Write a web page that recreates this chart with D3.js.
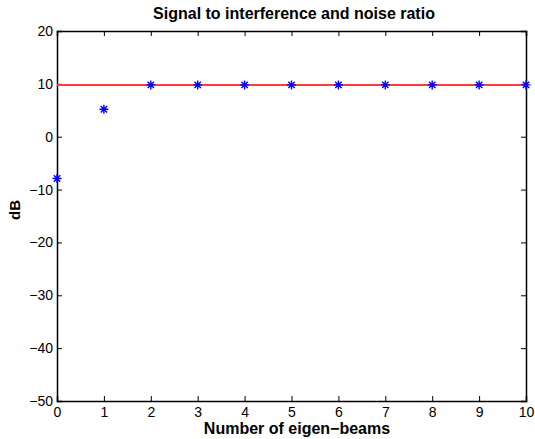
<!DOCTYPE html>
<html>
<head>
<meta charset="utf-8">
<script src="https://cdn.jsdelivr.net/npm/d3@7"></script>
<style>
  body { margin: 0; background: #fff; }
  svg { display: block; }
  .axis text { font-family: "Liberation Sans", Arial, sans-serif; font-size: 14px; fill: #000; }
  .axis path, .axis line { stroke: #000; }
  .labels { font-family: "Liberation Sans", Arial, sans-serif; font-size: 16px; font-weight: bold; fill: #000; }
  .ylabel { font-size: 15px; }
</style>
</head>
<body>
<div class="chart"></div>
<script>
/* data */
const beams = [0, 1, 2, 3, 4, 5, 6, 7, 8, 9, 10];
const sinr = [-7.9, 5.2, 9.8, 9.8, 9.8, 9.8, 9.8, 9.8, 9.8, 9.8, 9.8];
const optimum = 9.8;
const xTicks = [0, 1, 2, 3, 4, 5, 6, 7, 8, 9, 10];
const yTicks = [-50, -40, -30, -20, -10, 0, 10, 20];

/* container and plot area */
const totalWidth = 535, totalHeight = 439;
const margin = {top: 31, right: 9, bottom: 38, left: 57};
const width = totalWidth - margin.left - margin.right;
const height = totalHeight - margin.top - margin.bottom;

const svg = d3.select('.chart')
  .append('svg')
  .attr("width", totalWidth)
  .attr("height", totalHeight);

const chart = svg.append("g")
  .attr("transform", `translate(${margin.left},${margin.top})`);

/* scales */
const xScale = d3.scaleLinear().domain([0, 10]).range([0, width]);
const yScale = d3.scaleLinear().domain([-50, 20]).range([height, 0]);

/* axes with inward ticks, box on all four sides */
chart.append("g")
  .attr("class", "axis x-axis")
  .attr("transform", `translate(0, ${height})`)
  .call(d3.axisBottom(xScale).tickValues(xTicks).tickSize(-5).tickPadding(6).tickFormat(d3.format("d")));

chart.append("g")
  .attr("class", "axis")
  .call(d3.axisTop(xScale).tickValues(xTicks).tickSize(-5).tickFormat(""));

chart.append("g")
  .attr("class", "axis y-axis")
  .call(d3.axisLeft(yScale).tickValues(yTicks).tickSize(-5).tickPadding(4)
    .tickFormat(d => d < 0 ? "\u2212" + Math.abs(d) : d));

chart.append("g")
  .attr("class", "axis")
  .attr("transform", `translate(${width}, 0)`)
  .call(d3.axisRight(yScale).tickValues(yTicks).tickSize(-5).tickFormat(""));

chart.selectAll(".axis path").attr("stroke-width", 1.5);

/* red reference line */
chart.append("line")
  .attr("x1", xScale(0))
  .attr("x2", xScale(10))
  .attr("y1", yScale(optimum))
  .attr("y2", yScale(optimum))
  .style("stroke", "#ff3c3c")
  .style("stroke-width", 2);

/* asterisk markers */
const star = "M-4.5,0L4.5,0M0,-4.5L0,4.5M-3.2,-3.2L3.2,3.2M-3.2,3.2L3.2,-3.2";
chart.selectAll(".marker")
  .data(beams.map((b, i) => ({x: b, y: sinr[i]})))
  .enter()
  .append("path")
  .attr("class", "marker")
  .attr("d", star)
  .attr("transform", d => `translate(${xScale(d.x)},${yScale(d.y)})`)
  .style("stroke", "#0000ff")
  .style("stroke-width", 1.4)
  .style("fill", "none");

/* title and axis labels */
svg.append("text")
  .attr("class", "labels")
  .attr("x", 294)
  .attr("y", 19)
  .attr("text-anchor", "middle")
  .text("Signal to interference and noise ratio");

svg.append("text")
  .attr("class", "labels")
  .attr("x", 297)
  .attr("y", 434)
  .attr("text-anchor", "middle")
  .text("Number of eigen\u2212beams");

svg.append("text")
  .attr("class", "labels ylabel")
  .attr("transform", "translate(20, 210) rotate(-90)")
  .attr("text-anchor", "middle")
  .text("dB");
</script>
</body>
</html>
